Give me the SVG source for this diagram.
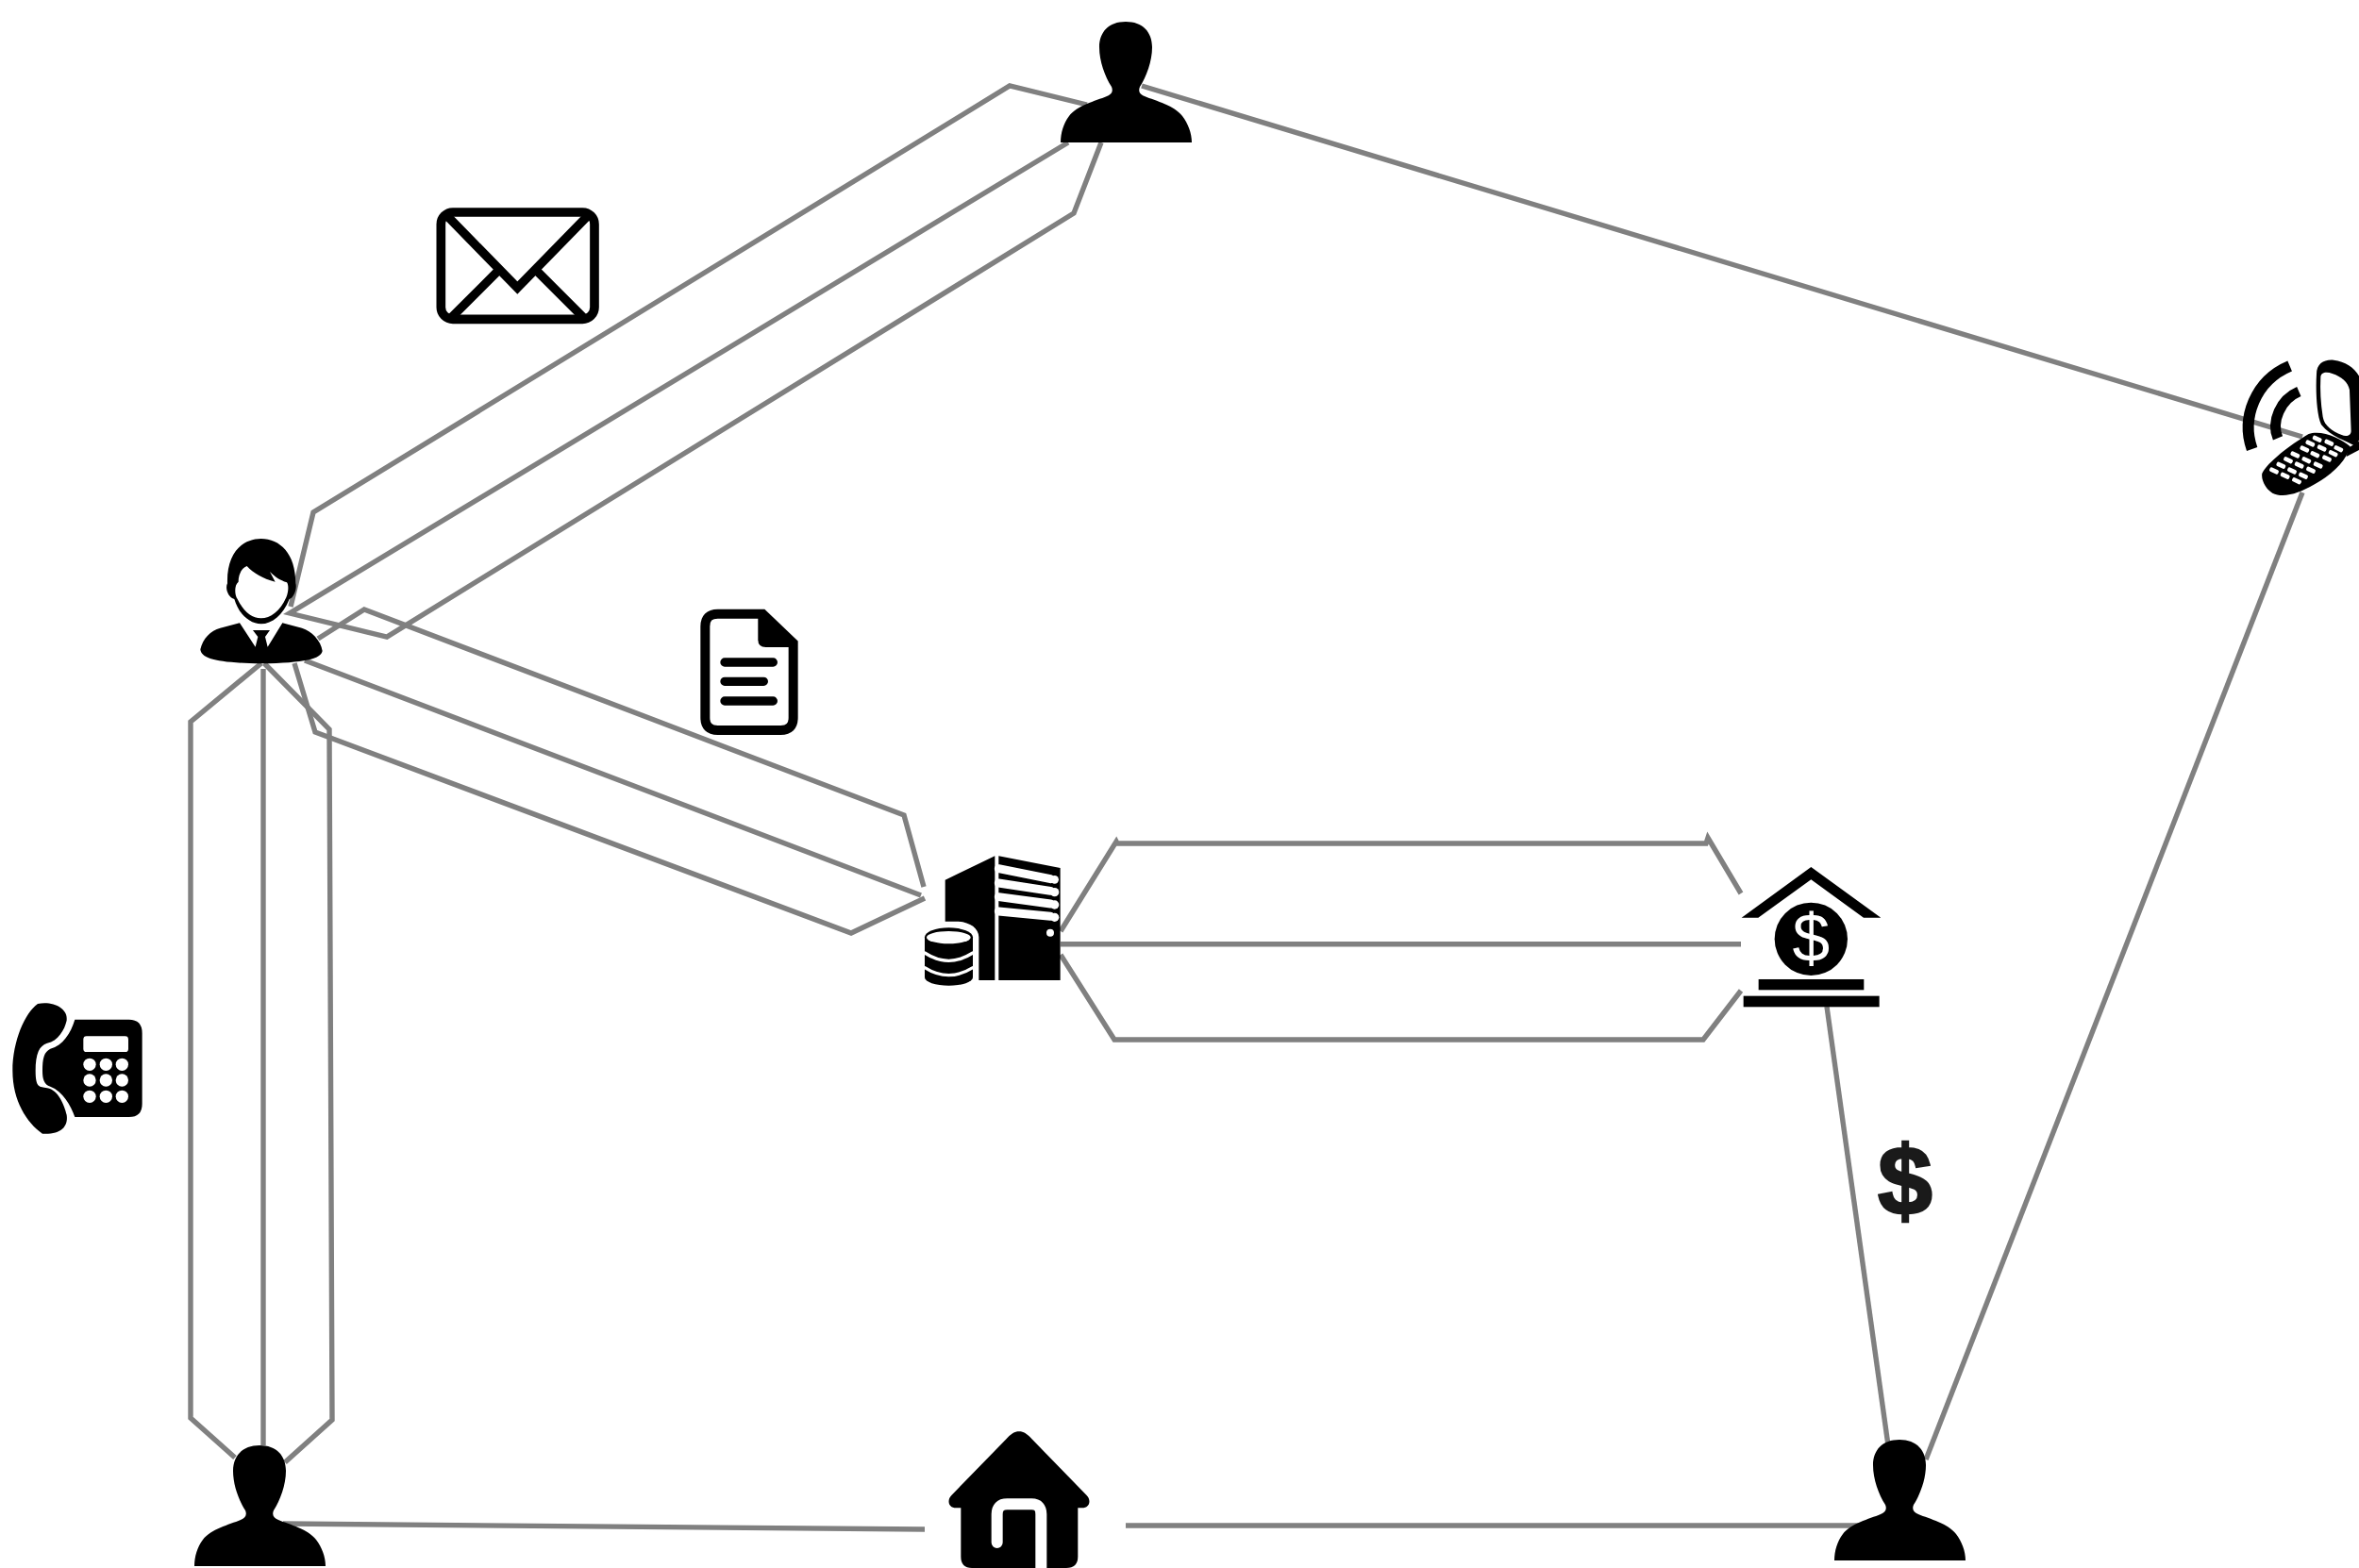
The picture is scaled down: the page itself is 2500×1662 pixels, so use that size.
<svg xmlns="http://www.w3.org/2000/svg" xmlns:xlink="http://www.w3.org/1999/xlink" width="2500" height="1662" viewBox="0 0 2500 1662">
<style>
.c{fill:none;stroke:#808080;stroke-width:5.4;stroke-linejoin:miter}
.k{fill:#000}
.w{fill:#fff}
.sw{fill:none;stroke:#fff;stroke-linecap:round}
.sk{fill:none;stroke:#000}
</style>
<defs>
<path id="person" class="k" d="M0 0C18 0 28 11 28 27C28 42 22 58 15 69C13 74 15 77 20 79C32 84 52 89 60 100C66 108 70 118 70 128L-69 128C-69 118 -66 108 -60 100C-52 89 -32 84 -20 79C-15 77 -13 74 -15 69C-22 58 -28 42 -28 27C-28 11 -18 0 0 0Z"/>
<rect id="key" class="w" x="-15" y="-7" width="30" height="14" rx="5" transform="rotate(25)"/>
</defs>
<rect width="2500" height="1662" fill="#fff"/>
<g id="connectors">
<polyline class="c" points="1152,111 1070,91 332,543 308,643"/>
<polyline class="c" points="1132,151 307,650 410,675 1138,226 1167,151"/>
<polyline class="c" points="337,677 386,646 958,864 979,940"/>
<line class="c" x1="323" y1="700" x2="976" y2="949"/>
<polyline class="c" points="312,703 334,776 902,989 980,952"/>
<polyline class="c" points="277,703 202,765 202,1503 249,1545"/>
<line class="c" x1="279" y1="709" x2="279" y2="1532"/>
<polyline class="c" points="280,703 349,773 352,1505 302,1550"/>
<polyline class="c" points="1124,987 1183,892 1184,894 1808,894 1810,888 1845,947"/>
<line class="c" x1="1124" y1="1000.7" x2="1845" y2="1000.7"/>
<polyline class="c" points="1124,1012 1181,1102 1805,1102 1845,1050"/>
<line class="c" x1="1936" y1="1067" x2="2001" y2="1532"/>
<line class="c" x1="2440" y1="522" x2="2041" y2="1547"/>
<line class="c" x1="1210" y1="91" x2="2440" y2="463"/>
<line class="c" x1="300" y1="1615" x2="980" y2="1621"/>
<line class="c" x1="1193" y1="1617" x2="1993" y2="1617"/>
</g>
<g id="person-top"><use xlink:href="#person" href="#person" transform="translate(1193 23)"/></g>
<g id="person-bottom-left"><use xlink:href="#person" href="#person" transform="translate(275 1532)"/></g>
<g id="person-bottom-right"><use xlink:href="#person" href="#person" transform="translate(2013 1526)"/></g>
<g id="manager" transform="translate(180 520) scale(.3333)">
<path class="k" d="M97 505C105 470 130 445 160 437L222 421L272 497L280 465L264 444L318 444L303 465L311 497L358 421L420 437C450 447 480 475 485 510C480 535 430 548 290 550C150 548 100 535 97 505Z"/>
<path class="k" d="M183 295C180 200 230 153 290 153C350 153 400 200 400 295C405 310 395 340 380 345C360 395 325 424 290 424C255 424 220 395 205 345C185 340 175 310 183 295Z"/>
<path class="w" d="M218 290C218 265 230 245 245 240C265 262 295 280 335 290L318 258C335 275 350 285 372 292C378 300 378 320 370 340C350 385 320 406 290 406C260 406 235 385 215 345C205 330 205 300 218 290Z"/>
</g>
<g id="email" transform="translate(440 200) scale(.3333)">
<rect class="sk" x="82" y="75" width="488" height="340" rx="38" stroke-width="29"/>
<path class="sk" stroke-width="28" d="M100 85L325 315L550 85M260 265L110 415M390 265L540 415"/>
</g>
<g id="document" transform="translate(720 630) scale(.3333)">
<path fill="#fff" stroke="#000" stroke-width="30" d="M122 62L265 62L362 155L362 392Q362 432 322 432L122 432Q82 432 82 392L82 102Q82 62 122 62Z"/>
<path class="k" d="M250 62L270 62L366 155L366 168L275 168Q250 168 250 145Z"/>
<path class="sk" stroke-width="28" stroke-linecap="round" d="M144 216L298 216M144 277L268 277M144 339L298 339"/>
</g>
<g id="server" transform="translate(950 880) scale(.3333)">
<path class="k" d="M155 158L313 82L313 477L262 477L262 340C262 310 230 290 190 290L155 290Z"/>
<path class="k" d="M325 82L521 120L521 477L325 477Z"/>
<path class="sw" stroke-width="27" stroke-linecap="butt" d="M325 122L490 155M325 168L490 193M325 212L490 234M325 258L490 274"/>
<circle class="w" cx="503" cy="157" r="13"/><circle class="w" cx="503" cy="197" r="14"/><circle class="w" cx="503" cy="237" r="14"/><circle class="w" cx="503" cy="277" r="14"/>
<circle class="w" cx="489" cy="326" r="12"/>
<path class="k" d="M90 340A76 30 0 0 1 243 340L243 468A76 26 0 0 1 90 468Z"/>
<ellipse class="w" cx="166" cy="341" rx="70" ry="20"/>
<path class="sw" stroke-width="10" stroke-linecap="butt" d="M90 390Q166 440 243 390M90 437Q166 485 243 437"/>
</g>
<g id="bank" transform="translate(1800 870) scale(.3333)">
<polygon class="k" points="358,147 580,308 525,308 358,187 190,308 137,308"/>
<circle class="k" cx="358" cy="376" r="116"/>
<text x="358" y="448" font-family="'Liberation Sans',Arial,sans-serif" font-size="214" text-anchor="middle" fill="#fff">$</text>
<rect class="k" x="191" y="504" width="335" height="34"/>
<rect class="k" x="143" y="557" width="432" height="35"/>
</g>
<g id="mobile" transform="translate(2340 360) scale(.3333)">
<path class="sk" stroke-width="36" d="M260 84C150 130 105 250 140 348"/>
<path class="sk" stroke-width="33" d="M289 165C230 190 200 260 222 313"/>
<path class="k" d="M345 110C345 75 370 62 400 65C445 70 480 100 490 140L490 300L470 340C440 320 390 310 360 270C345 240 342 160 345 110Z"/>
<path class="w" d="M358 120C358 105 375 100 395 108C425 118 445 135 450 160L455 290C455 305 440 310 425 303C395 290 370 275 365 245C358 200 356 160 358 120Z"/>
<path class="k" d="M172 425C190 390 260 335 320 300C360 285 425 315 452 340C440 385 395 430 335 462C290 488 240 505 205 488C183 475 168 445 172 425Z"/>
<path class="k" d="M445 345L482 322L482 350L440 372Z"/>
<g>
<use xlink:href="#key" href="#key" x="210" y="417"/><use xlink:href="#key" href="#key" x="245" y="433"/><use xlink:href="#key" href="#key" x="282" y="449"/>
<use xlink:href="#key" href="#key" x="232" y="400"/><use xlink:href="#key" href="#key" x="267" y="417"/><use xlink:href="#key" href="#key" x="303" y="433"/>
<use xlink:href="#key" href="#key" x="255" y="383"/><use xlink:href="#key" href="#key" x="290" y="399"/><use xlink:href="#key" href="#key" x="327" y="415"/>
<use xlink:href="#key" href="#key" x="277" y="366"/><use xlink:href="#key" href="#key" x="313" y="383"/><use xlink:href="#key" href="#key" x="350" y="399"/>
<use xlink:href="#key" href="#key" x="307" y="348"/><use xlink:href="#key" href="#key" x="340" y="365"/><use xlink:href="#key" href="#key" x="378" y="378"/>
<use xlink:href="#key" href="#key" x="325" y="330"/><use xlink:href="#key" href="#key" x="362" y="345"/><use xlink:href="#key" href="#key" x="398" y="362"/>
<use xlink:href="#key" href="#key" x="347" y="316"/><use xlink:href="#key" href="#key" x="385" y="328"/><use xlink:href="#key" href="#key" x="415" y="347"/>
</g>
</g>
<g id="telephone" transform="translate(0 1040) scale(.3333)">
<path class="k" d="M120 72C165 62 218 85 212 125C205 155 185 190 150 197C125 205 113 230 113 285C113 340 125 335 150 340C185 345 205 395 212 425C218 465 190 488 135 485C85 450 40 380 40 285C40 190 80 100 120 72Z"/>
<path class="k" d="M238 122L410 122Q452 122 452 165L452 390Q452 432 410 432L238 432C225 395 200 350 160 335C140 330 135 310 135 285C135 245 140 225 160 215C200 205 225 165 238 122Z"/>
<rect class="w" x="265" y="175" width="143" height="50" rx="10"/>
<g class="w"><circle cx="285" cy="265" r="20"/><circle cx="337" cy="265" r="20"/><circle cx="388" cy="265" r="20"/><circle cx="285" cy="315" r="20"/><circle cx="337" cy="315" r="20"/><circle cx="388" cy="315" r="20"/><circle cx="285" cy="367" r="20"/><circle cx="337" cy="367" r="20"/><circle cx="388" cy="367" r="20"/></g>
</g>
<g id="home" transform="translate(980 1490) scale(.3333)">
<path class="k" d="M300 82C315 82 325 90 335 100L515 285C530 300 525 325 500 325L487 325L487 480Q487 516 450 516L150 516Q115 516 115 480L115 325L100 325C75 325 70 300 85 285L265 100C275 90 285 82 300 82Z"/>
<path class="sw" stroke-width="36" d="M230 435L230 345Q230 313 262 313L340 313Q370 313 370 345L370 530"/>
</g>
<g id="dollar"><text x="2019" y="1287" font-family="'Liberation Sans',Arial,sans-serif" font-weight="700" font-size="104" text-anchor="middle" fill="#1a1a1a" stroke="#1a1a1a" stroke-width="2.5">$</text></g>
</svg>
